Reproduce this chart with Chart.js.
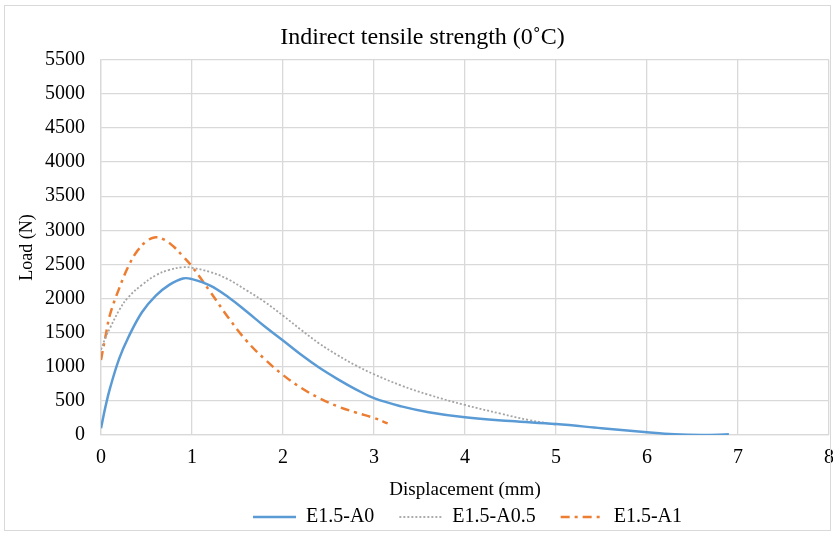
<!DOCTYPE html>
<html>
<head>
<meta charset="utf-8">
<script src="https://cdn.jsdelivr.net/npm/chart.js@4.4.1/dist/chart.umd.min.js"></script>
<style>
    body { margin: 0; background: #ffffff; }
    #Wrap { position: relative; width: 833px; height: 534px; }
    #Frame { position: absolute; left: 4px; top: 5px; width: 825px; height: 524px; border: 1px solid #d9d9d9; pointer-events: none; }
</style>
</head>
<body>
<div id="Wrap">
    <canvas id="ChartCanvas" width="833" height="534"></canvas>
    <div id="Frame"></div>
</div>
<script>
// Values (displacement in mm, load in N)
const a0X = [0, 0.05, 0.1, 0.2, 0.3, 0.45, 0.6, 0.75, 0.9, 1.0, 1.2, 1.4, 1.6, 1.8, 2.0, 2.2, 2.4, 2.6, 2.8, 3.0, 3.3, 3.6, 4.0, 4.5, 5.0, 5.5, 6.0, 6.3, 6.6, 6.9];
const a0Y = [100, 420, 690, 1120, 1430, 1800, 2040, 2200, 2295, 2285, 2190, 2020, 1810, 1590, 1385, 1175, 985, 820, 670, 540, 420, 335, 260, 205, 160, 100, 40, 10, 0, 10];

const a05X = [0, 0.05, 0.1, 0.2, 0.3, 0.45, 0.6, 0.75, 0.9, 1.0, 1.2, 1.4, 1.6, 1.8, 2.0, 2.2, 2.4, 2.6, 2.8, 3.0, 3.3, 3.6, 4.0, 4.4, 4.7, 5.0];
const a05Y = [1250, 1430, 1570, 1830, 2020, 2200, 2340, 2420, 2460, 2450, 2390, 2280, 2120, 1950, 1750, 1540, 1340, 1170, 1020, 890, 725, 590, 440, 310, 220, 150];

const a1X = [0, 0.05, 0.1, 0.2, 0.3, 0.4, 0.5, 0.6, 0.7, 0.8, 0.9, 1.0, 1.2, 1.4, 1.6, 1.8, 2.0, 2.2, 2.4, 2.6, 2.8, 3.0, 3.15];
const a1Y = [1100, 1450, 1770, 2150, 2470, 2700, 2840, 2900, 2860, 2760, 2620, 2470, 2100, 1720, 1380, 1110, 880, 690, 540, 420, 330, 250, 170];

const seriesNames = ['E1.5-A0', 'E1.5-A0.5', 'E1.5-A1'];
const xTicks = [0, 1, 2, 3, 4, 5, 6, 7, 8];
const yTicks = [0, 500, 1000, 1500, 2000, 2500, 3000, 3500, 4000, 4500, 5000, 5500];

class TensileChart
{
    constructor()
    {
        this.font = "'Liberation Serif', 'Times New Roman', serif";
        this.ChartData();
    }

    // pair the x and y arrays into {x, y} points
    Points(xs, ys)
    {
        return xs.map((x, i) => ({ x: x, y: ys[i] }));
    }

    // default legend items lose the dash pattern with usePointStyle, so copy it back
    LegendLabels(chart)
    {
        const items = Chart.defaults.plugins.legend.labels.generateLabels(chart);
        items.forEach(item =>
        {
            const ds = chart.data.datasets[item.datasetIndex];
            item.lineDash = ds.borderDash || [];
            item.lineWidth = ds.borderWidth;
            item.strokeStyle = ds.borderColor;
        });
        return items;
    }

    ChartData()
    {
        const ctx = document.getElementById('ChartCanvas');
        const font = this.font;

        // the legend in the picture sits a bit right of centre
        const legendShift =
        {
            id: 'legendShift',
            afterLayout: chart =>
            {
                chart.legend.left += 45;
                chart.legend.right += 45;
            }
        };

        new Chart(ctx,
        {
            type: 'scatter',
            plugins: [legendShift],
            data:
            {
                datasets:
                [
                    {
                        label: seriesNames[0],
                        data: this.Points(a0X, a0Y),
                        showLine: true,
                        borderColor: '#5b9bd5',
                        backgroundColor: '#5b9bd5',
                        borderWidth: 2.5,
                        pointRadius: 0,
                        tension: 0.4
                    },
                    {
                        label: seriesNames[1],
                        data: this.Points(a05X, a05Y),
                        showLine: true,
                        borderColor: '#a5a5a5',
                        backgroundColor: '#a5a5a5',
                        borderWidth: 1.8,
                        borderDash: [2, 2],
                        pointRadius: 0,
                        tension: 0.4
                    },
                    {
                        label: seriesNames[2],
                        data: this.Points(a1X, a1Y),
                        showLine: true,
                        borderColor: '#ed7d31',
                        backgroundColor: '#ed7d31',
                        borderWidth: 2.5,
                        borderDash: [9, 5, 3, 5],
                        pointRadius: 0,
                        tension: 0.4
                    }
                ]
            },
            options:
            {
                responsive: false,
                animation: false,
                layout: { padding: { left: 6, right: -6, top: 5, bottom: -3 } },
                plugins:
                {
                    tooltip: { enabled: false },
                    title:
                    {
                        display: true,
                        text: 'Indirect tensile strength (0˚C)',
                        color: '#000000',
                        font: { family: font, size: 24, weight: 'normal' },
                        padding: { top: 18, bottom: 8 }
                    },
                    legend:
                    {
                        position: 'bottom',
                        labels:
                        {
                            color: '#000000',
                            font: { family: font, size: 20 },
                            usePointStyle: true,
                            pointStyle: 'line',
                            pointStyleWidth: 43,
                            boxHeight: 10,
                            padding: 25,
                            generateLabels: chart => this.LegendLabels(chart)
                        }
                    }
                },
                scales:
                {
                    x:
                    {
                        type: 'linear',
                        min: 0,
                        max: 8,
                        afterBuildTicks: axis => { axis.ticks = xTicks.map(v => ({ value: v })); },
                        afterFit: axis =>
                        {
                            axis.height = 47;
                            axis.paddingRight = 4;
                        },
                        grid: { color: '#d9d9d9', lineWidth: 1.3, drawTicks: false },
                        border: { color: '#d9d9d9', width: 1.3 },
                        ticks: { color: '#000000', font: { family: font, size: 20 }, padding: 11 },
                        title:
                        {
                            display: true,
                            text: 'Displacement (mm)',
                            color: '#000000',
                            font: { family: font, size: 19 },
                            padding: { top: 0, bottom: -19 }
                        }
                    },
                    y:
                    {
                        min: 0,
                        max: 5500,
                        afterBuildTicks: axis => { axis.ticks = yTicks.map(v => ({ value: v })); },
                        afterFit: axis => { axis.width = 95; },
                        grid: { color: '#d9d9d9', lineWidth: 1.3, drawTicks: false },
                        border: { color: '#d9d9d9', width: 1.3 },
                        ticks:
                        {
                            color: '#000000',
                            font: { family: font, size: 20 },
                            padding: 16,
                            callback: value => String(value)
                        },
                        title:
                        {
                            display: true,
                            text: 'Load (N)',
                            color: '#000000',
                            font: { family: font, size: 18 },
                            padding: { top: 10, bottom: 0 }
                        }
                    }
                }
            }
        });
    }
}

new TensileChart();
</script>
</body>
</html>
